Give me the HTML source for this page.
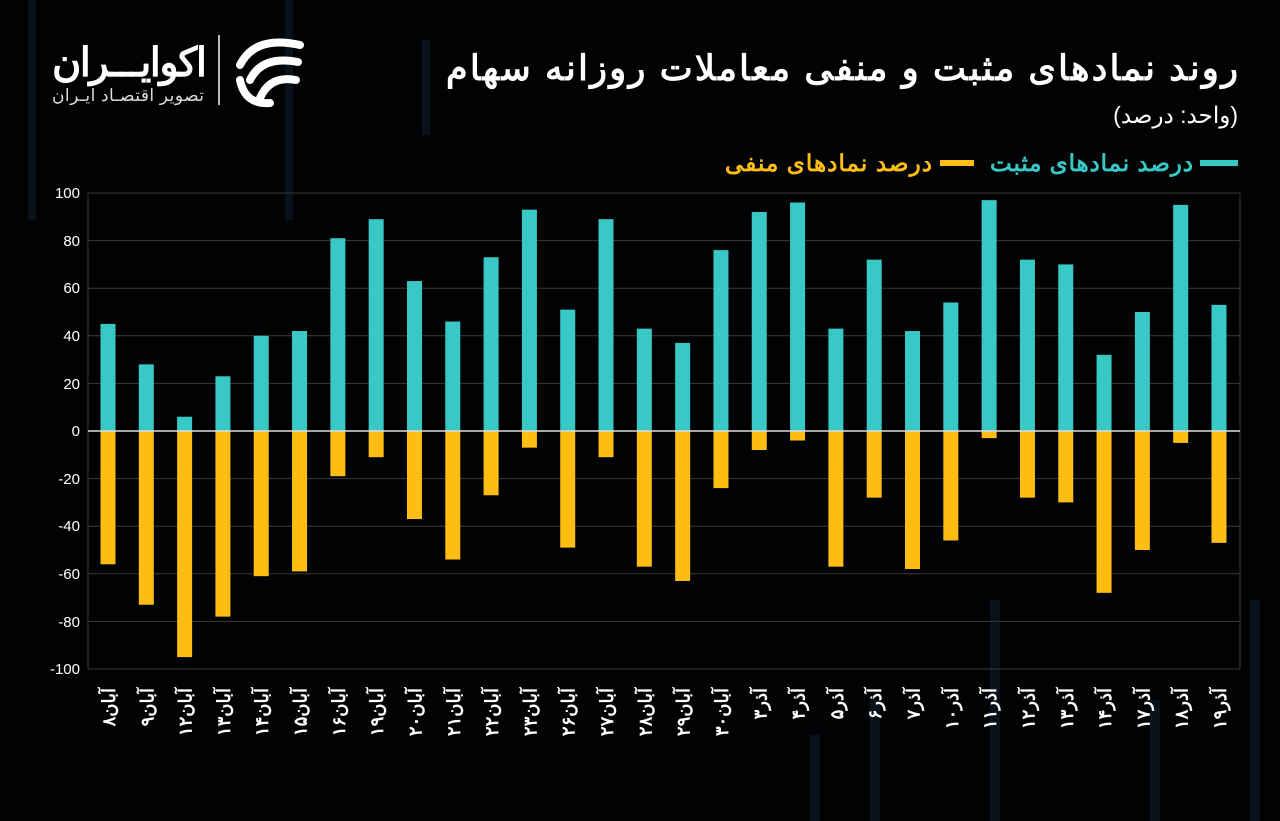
<!DOCTYPE html>
<html><head><meta charset="utf-8"><style>
html,body{margin:0;padding:0;background:#000;}
svg{display:block;}
text{font-family:"Liberation Sans","Noto Sans CJK SC",sans-serif;}
</style></head><body>
<svg width="1280" height="821" viewBox="0 0 1280 821" xmlns="http://www.w3.org/2000/svg">
<rect width="1280" height="821" fill="#010203"/>
<g fill="#0b1620" opacity="0.8">
<rect x="28" y="0" width="8" height="220"/><rect x="285" y="0" width="8" height="220"/>
<rect x="422" y="40" width="8" height="95"/><rect x="990" y="600" width="10" height="221"/>
<rect x="1250" y="600" width="10" height="221"/><rect x="810" y="735" width="10" height="86"/>
<rect x="870" y="700" width="10" height="121"/><rect x="1150" y="700" width="10" height="121"/>
</g>
<!-- Logo -->
<text x="52" y="76" fill="#fff" font-size="40" font-weight="bold" text-anchor="end" direction="rtl" textLength="155">اکوایـــران</text>
<text x="52" y="101" fill="#ddd" font-size="17" text-anchor="end" direction="rtl" textLength="152">تصویر اقتصـاد ایـران</text>
<rect x="218" y="35" width="2" height="70" fill="#bbb"/>
<g fill="none" stroke="#fff" stroke-width="8" stroke-linecap="round">
<path d="M300 45 Q255 35 240 65"/><path d="M298 62 Q262 55 250 80"/><path d="M296 80 Q270 75 260 98"/><path d="M240 80 Q245 105 270 103"/>
</g>
<!-- Title -->
<text x="1238" y="80" fill="#fff" font-size="35" font-weight="bold" text-anchor="start" direction="rtl" textLength="792">روند نمادهای مثبت و منفی معاملات روزانه سهام</text>
<text x="1238" y="123" fill="#fff" font-size="23" text-anchor="start" direction="rtl">(واحد: درصد)</text>
<!-- Legend -->
<rect x="1200" y="160" width="38" height="6" fill="#38c9c7"/>
<text x="1193" y="171" fill="#38c9c7" font-size="23" font-weight="bold" text-anchor="start" direction="rtl" textLength="203">درصد نمادهای مثبت</text>
<rect x="940" y="160" width="34" height="6" fill="#fdbd13"/>
<text x="932" y="171" fill="#fdbd13" font-size="23" font-weight="bold" text-anchor="start" direction="rtl" textLength="207">درصد نمادهای منفی</text>
<!-- grid -->
<g stroke="#3a3a3a" stroke-width="1">
<line x1="88" y1="193" x2="1240" y2="193"/><line x1="88" y1="240.6" x2="1240" y2="240.6"/>
<line x1="88" y1="288.2" x2="1240" y2="288.2"/><line x1="88" y1="335.8" x2="1240" y2="335.8"/>
<line x1="88" y1="383.4" x2="1240" y2="383.4"/>
<line x1="88" y1="478.6" x2="1240" y2="478.6"/><line x1="88" y1="526.2" x2="1240" y2="526.2"/>
<line x1="88" y1="573.8" x2="1240" y2="573.8"/><line x1="88" y1="621.4" x2="1240" y2="621.4"/>
<line x1="88" y1="669" x2="1240" y2="669"/>
<line x1="88" y1="193" x2="88" y2="669"/><line x1="1240" y1="193" x2="1240" y2="669"/>
</g>
<g fill="#fff" font-size="15" text-anchor="end">
<text x="80" y="198">100</text><text x="80" y="246">80</text><text x="80" y="293">60</text>
<text x="80" y="341">40</text><text x="80" y="389">20</text><text x="80" y="436">0</text>
<text x="80" y="484">-20</text><text x="80" y="531">-40</text><text x="80" y="579">-60</text>
<text x="80" y="627">-80</text><text x="80" y="674">-100</text>
</g>
<g id="bars"></g>
<line x1="88" y1="431" x2="1240" y2="431" stroke="#ddd" stroke-width="1.5"/>
<g id="labels"></g>
</svg>
<script>
var d=[[45,56,"آبان۸"],[28,73,"آبان۹"],[6,95,"آبان۱۲"],[23,78,"آبان۱۳"],[40,61,"آبان۱۴"],[42,59,"آبان۱۵"],[81,19,"آبان۱۶"],[89,11,"آبان۱۹"],[63,37,"آبان۲۰"],[46,54,"آبان۲۱"],[73,27,"آبان۲۲"],[93,7,"آبان۲۳"],[51,49,"آبان۲۶"],[89,11,"آبان۲۷"],[43,57,"آبان۲۸"],[37,63,"آبان۲۹"],[76,24,"آبان۳۰"],[92,8,"آذر۳"],[96,4,"آذر۴"],[43,57,"آذر۵"],[72,28,"آذر۶"],[42,58,"آذر۷"],[54,46,"آذر۱۰"],[97,3,"آذر۱۱"],[72,28,"آذر۱۲"],[70,30,"آذر۱۳"],[32,68,"آذر۱۴"],[50,50,"آذر۱۷"],[95,5,"آذر۱۸"],[53,47,"آذر۱۹"]];
var ns="http://www.w3.org/2000/svg",b=document.getElementById("bars"),l=document.getElementById("labels"),s=2.38;
d.forEach(function(v,i){var cx=108+i*38.31;
var r=document.createElementNS(ns,"rect");r.setAttribute("x",cx-7.5);r.setAttribute("width",15);r.setAttribute("y",431-v[0]*s);r.setAttribute("height",v[0]*s);r.setAttribute("fill","#38c9c7");b.appendChild(r);
r=document.createElementNS(ns,"rect");r.setAttribute("x",cx-7.5);r.setAttribute("width",15);r.setAttribute("y",431);r.setAttribute("height",v[1]*s);r.setAttribute("fill","#fdbd13");b.appendChild(r);
var t=document.createElementNS(ns,"text");t.setAttribute("transform","translate("+(cx+7)+",688) rotate(-90)");t.setAttribute("fill","#fff");t.setAttribute("font-size","18");t.setAttribute("font-weight","bold");t.setAttribute("direction","rtl");t.setAttribute("text-anchor","start");t.textContent=v[2];l.appendChild(t);});
</script>
</body></html>
